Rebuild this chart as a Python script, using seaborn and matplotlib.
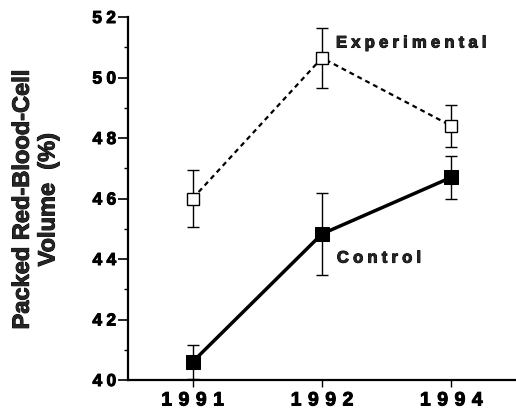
import matplotlib
matplotlib.use("Agg")
import matplotlib.pyplot as plt
import matplotlib.patheffects as pe
import seaborn as sns
import pandas as pd

# ── Data ──────────────────────────────────────────────────────────────────────
years = ["1991", "1992", "1994"]
exp_mean = [46.0, 50.65, 48.4]
exp_err = [0.95, 1.0, 0.7]
ctrl_mean = [40.6, 44.83, 46.7]
ctrl_err = [0.55, 1.35, 0.72]
y_ticks = [40, 42, 44, 46, 48, 50, 52]
y_minor = [41, 43, 45, 47, 49, 51]

FONTS = ["Liberation Sans", "DejaVu Sans"]
# slight stroke to mimic the heavy printed type
INK = [pe.withStroke(linewidth=0.7, foreground="black")]


def spaced(s, sep):
    # fake letter tracking by putting a narrow space between characters
    return sep.join(list(s))


sns.set_style("ticks")
plt.rcParams["font.family"] = FONTS
plt.rcParams["font.weight"] = "bold"

pos = list(range(len(years)))
df_exp = pd.DataFrame({"x": pos, "y": exp_mean})
df_ctrl = pd.DataFrame({"x": pos, "y": ctrl_mean})

fig = plt.figure(figsize=(5.16, 4.16), dpi=100)
ax = fig.add_axes([0.248, 0.0865, 0.752, 0.8726])

# error bars first so the open markers sit on top of them
ax.errorbar(pos, exp_mean, yerr=exp_err, fmt="none", ecolor="black",
            elinewidth=1.0, capsize=4.5, capthick=1.0, zorder=1)
ax.errorbar(pos, ctrl_mean, yerr=ctrl_err, fmt="none", ecolor="black",
            elinewidth=1.0, capsize=4.5, capthick=1.0, zorder=1)

sns.lineplot(data=df_exp, x="x", y="y", ax=ax, color="black",
             linewidth=1.6, linestyle=(0, (2.2, 1.8)), marker="s",
             markersize=8.5, markerfacecolor="white",
             markeredgecolor="black", markeredgewidth=1.0, zorder=3)
sns.lineplot(data=df_ctrl, x="x", y="y", ax=ax, color="black",
             linewidth=2.5, marker="s", markersize=10,
             markerfacecolor="black", markeredgecolor="black", zorder=3)

# ── Axes ──────────────────────────────────────────────────────────────────────
ax.set_xlim(-0.5, 2.5)
ax.set_ylim(40, 52)
ax.set_xticks(pos)
ax.set_xticklabels([spaced(y, "\u2004") for y in years],
                   fontsize=14, fontweight="bold")
ax.set_yticks(y_ticks)
ax.set_yticklabels([spaced(str(v), "\u2005") for v in y_ticks],
                   fontsize=12.5, fontweight="bold")
ax.set_yticks(y_minor, minor=True)
ax.tick_params(axis="y", which="major", direction="out", length=7,
               width=1.2, pad=1.5, colors="black")
ax.tick_params(axis="y", which="minor", direction="out", length=3,
               width=1.0, colors="black")
ax.tick_params(axis="x", which="major", direction="out", length=5,
               width=1.0, pad=4, colors="black")
for lbl in ax.get_xticklabels() + ax.get_yticklabels():
    lbl.set_path_effects(INK)
ax.set_xlabel("")
ax.set_ylabel("")
sns.despine(ax=ax)
for side in ("left", "bottom"):
    ax.spines[side].set_linewidth(1.6)
    ax.spines[side].set_color("black")

fig.text(0.068, 0.52, "Packed Red-Blood-Cell\nVolume  (%)", rotation=90,
         ha="center", va="center", fontsize=17, fontweight="bold",
         linespacing=1.15, multialignment="center", path_effects=INK)

ax.text(1.108, 51.14, spaced("Experimental", "\u2005"), ha="left",
        va="center", fontsize=12, fontweight="bold", path_effects=INK)
ax.text(1.115, 44.03, spaced("Control", "\u2005"), ha="left", va="center",
        fontsize=12, fontweight="bold", path_effects=INK)

fig.savefig("out.png", dpi=100, facecolor="white")
